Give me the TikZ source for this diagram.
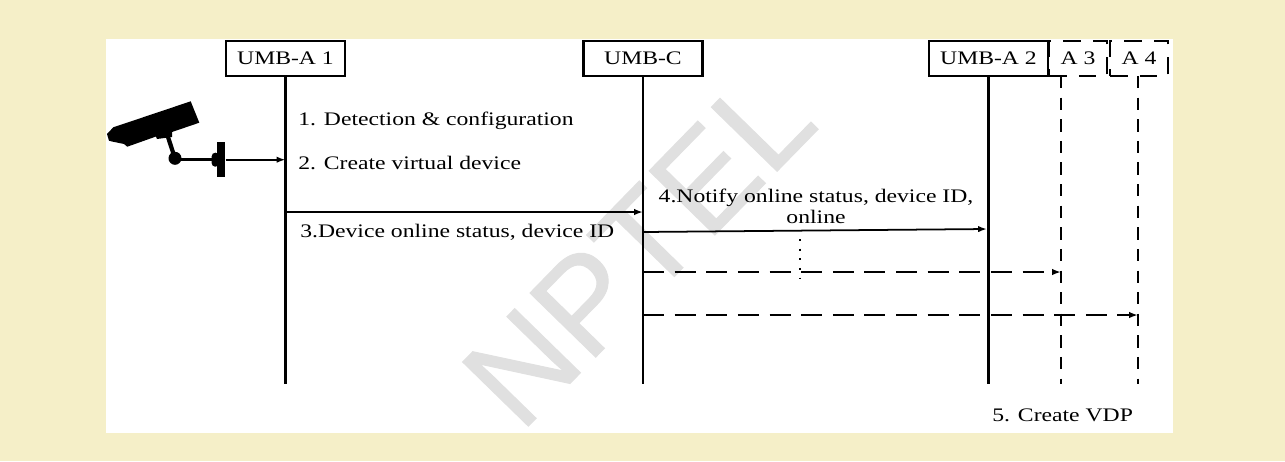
\documentclass[tikz,border=0pt]{standalone}
\usepackage{fontspec}
\setmainfont[FakeStretch=1.235]{Liberation Serif}
\newfontfamily\markfont[FakeBold=0.7]{Liberation Sans}
\usetikzlibrary{positioning}
\usetikzlibrary{arrows.meta}
\definecolor{pagebg}{RGB}{245,239,200}

\begin{document}
\begin{tikzpicture}[
    x=0.02cm,y=-0.02cm,
    node distance=1cm,
    lifebox/.style={rectangle,draw=black,line width=1.2pt,fill=white,minimum width=2.38cm,minimum height=0.7cm,inner sep=0pt,font=\fontsize{10.9}{12}\selectfont},
    extbox/.style={rectangle,draw=black,line width=1.3pt,dash pattern=on 10pt off 7pt,minimum width=1.16cm,minimum height=0.7cm,inner sep=0pt,font=\fontsize{10.9}{12}\selectfont},
    life/.style={line width=1.2pt},
    extlife/.style={line width=1.5pt,dash pattern=on 7pt off 5.3pt},
    msg/.style={line width=1pt,-{Latex[length=5pt,width=3.6pt]}},
    extmsg/.style={line width=1pt,dash pattern=on 12pt off 6pt,-{Latex[length=5pt,width=3.6pt]}},
    step label/.style={anchor=west,inner sep=0pt,font=\fontsize{10.9}{12}\selectfont}
    ]
    \fill[pagebg] (0,0) rectangle (1285,461);
    \fill[white] (106,39) rectangle (1173,433);
    \node (mark) [anchor=base,rotate=45.7,text=black!12,font=\markfont\fontsize{76}{76}\selectfont] at (671,280) {NPTEL};

    \node (umba1) [lifebox] at (285.5,58.5) {UMB-A 1};
    \node (umbc) [lifebox] at (643,58.5) {UMB-C};
    \node (umba2) [lifebox] at (988.5,58.5) {UMB-A 2};
    \node (a3) [extbox] at (1078,58.5) {A 3};
    \node (a4) [extbox] at (1139,58.5) {A 4};

    \coordinate (bottom) at (0,384);
    \coordinate (a3top) at (1061,76);
    \coordinate (a4top) at (1138,76);
    \draw[life] (umba1) -- (umba1 |- bottom);
    \draw[life] (umbc) -- (umbc |- bottom);
    \draw[life] (umba2) -- (umba2 |- bottom);
    \draw[extlife] (a3top) -- (a3top |- bottom);
    \draw[extlife] (a4top) -- (a4top |- bottom);

    % camera
    \fill (190.7,101.3) -- (199.3,122.7) -- (172,132) -- (172,137) -- (157,139) -- (156,136.5) -- (127.3,146.7) -- (124,144) -- (112,141.5) -- (109,140.7) -- (107,134) -- (113.3,127.3) -- cycle;
    \draw[line width=2.4pt] (167,134) -- (175,158.3);
    \draw[line width=1.8pt] (175,159.3) -- (214,159.3);
    \fill (175,158.3) circle (6.5);
    \fill[rounded corners=2pt] (211.7,152.7) rectangle (219,166.7);
    \node (mount) [rectangle,fill=black,minimum width=0.16cm,minimum height=0.7cm,inner sep=0pt] at (221.3,159.7) {};
    \draw[msg] (mount) -- (umba1 |- mount);

    \node (det) [step label] at (298,121) {1. Detection \& configuration};
    \node (virt) [step label] at (298,163) {2. Create virtual device};
    \node (stat) [step label] at (300,232) {3.Device online status, device ID};
    \node (notify) [align=center,inner sep=0pt,font=\fontsize{10.9}{12}\selectfont] at (816,206) {4.Notify online status, device ID,\\online};
    \node (vdp) [step label] at (992,415.5) {5. Create VDP};

    \coordinate (m3) at (0,212);
    \coordinate (m4a) at (643,232);
    \coordinate (m4b) at (987,229);
    \coordinate (m5) at (0,272);
    \coordinate (m6) at (0,315);
    \coordinate (dota) at (800,239);
    \coordinate (dotb) at (800,279);
    \draw[msg] (umba1 |- m3) -- (umbc |- m3);
    \draw[msg] (m4a) -- (m4b);
    \draw[extmsg] (umbc |- m5) -- (a3top |- m5);
    \draw[extmsg] (umbc |- m6) -- (a4top |- m6);
    \draw[line width=1.1pt,dash pattern=on 1.1pt off 4.4pt] (dota) -- (dotb);
\end{tikzpicture}
\end{document}
